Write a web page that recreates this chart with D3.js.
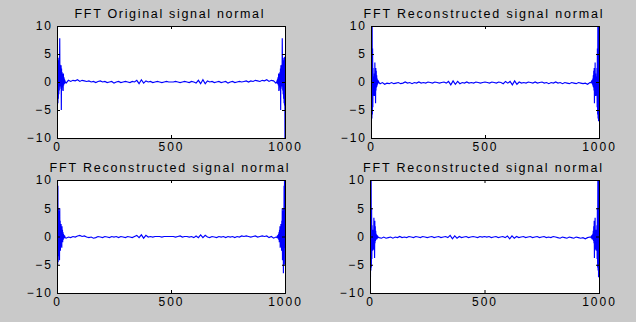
<!DOCTYPE html>
<html>
<head>
<meta charset="utf-8">
<script src="https://cdn.jsdelivr.net/npm/d3@7"></script>
<style>
  html, body { margin: 0; padding: 0; background: #c9c9c9; }
  svg { display: block; }
</style>
</head>
<body>
<svg id="chart" width="636" height="322"></svg>
<script>
// ---------------- DATA ----------------
const titles = [
  "FFT Original signal normal",
  "FFT Reconstructed signal normal",
  "FFT Reconstructed signal normal",
  "FFT Reconstructed signal normal"
];
const xTickValues = [0, 500, 1000];
const yTickValues = [-10, -5, 0, 5, 10];

// sample index (x positions of the plotted points)
const sampleIndex = [
  0,1,2,3,4,5,6,7,8,9,10,11,12,13,14,15,16,17,18,19,20,21,22,23,24,25,26,27,28,29,30,31,32,33,34,35,
  40,50,60,70,80,90,100,110,120,130,
  140,150,160,170,180,190,200,210,220,230,
  240,250,260,270,280,290,300,310,320,330,
  340,350,360,370,380,390,400,410,420,430,
  440,450,460,470,480,490,500,510,520,530,
  540,550,560,570,580,590,600,610,620,630,
  640,650,660,670,680,690,700,710,720,730,
  740,750,760,770,780,790,800,810,820,830,
  840,850,860,870,880,890,900,910,920,930,
  940,950,960,
  965,966,967,968,969,970,971,972,973,974,975,976,977,978,979,980,981,982,983,984,985,986,987,988,989,990,991,992,993,994,995,996,997,998,999,1000
];

const fftOriginal = [
  -14,4.5,-4.2,4.4,-3.8,4.3,-3,3.9,-2.2,3.4,-1.5,3.2,7.8,-0.8,3.1,-0.5,2.8,-1.2,3.0,-5.0,2.4,-1.5,1.8,-0.8,1.5,-1.0,1.2,-1.6,1.5,-0.6,0.9,-0.4,0.6,-0.3,0.4,0.1,
  -0.2,0.3,0.1,0.3,0.2,0.4,0.1,0.3,0.2,0.1,
  0.2,0.0,0.1,-0.1,0.1,0.2,0.0,0.1,-0.1,0.0,
  0.1,-0.2,0.0,0.1,-0.1,0.0,0.1,0.0,-0.1,0.1,
  0.0,0.3,-0.3,0.4,-0.2,0.2,0.0,0.1,-0.1,0.0,
  0.1,0.0,-0.1,0.0,0.1,0.0,0.0,0.0,0.1,0.0,
  -0.1,0.0,0.1,0.0,-0.1,0.1,0.0,-0.2,0.3,-0.3,
  0.4,-0.3,0.2,0.0,0.1,-0.1,0.0,0.1,-0.1,0.0,
  0.1,-0.2,0.0,0.1,-0.1,0.0,0.1,0.0,0.1,0.2,
  0.0,0.2,0.1,0.3,0.2,0.1,0.3,0.2,0.4,0.1,
  0.3,0.2,-0.2,
  0.1,0.4,-0.3,0.6,-0.4,0.9,-0.6,1.5,-1.6,1.2,-1.0,1.5,-0.8,1.8,-1.5,2.4,-5.0,3.0,-1.2,2.8,-0.5,3.1,-0.8,7.8,3.2,-1.5,3.4,-2.2,3.9,-3,4.3,-3.8,4.4,-4.2,4.5,-14
];

const fftReconTopRight = [
  1,14,-7,13,-6.5,11,-5.8,6,-4.5,2.5,-2.4,1,-2.2,0.5,-2.5,1.5,-1,3.5,-2.5,1,-3.8,2.5,-1.5,2,-1,1.2,-0.8,0.6,-0.5,0.4,-0.3,0.3,-0.2,0.2,-0.2,-0.1,
  -0.3,-0.1,-0.4,-0.2,-0.3,-0.1,-0.3,-0.2,-0.1,-0.3,
  -0.2,0.0,-0.2,-0.1,-0.3,-0.1,-0.2,0.0,-0.2,-0.1,
  -0.2,0.0,-0.1,-0.2,0.0,-0.1,-0.2,-0.1,0.0,-0.2,
  0.1,-0.5,0.2,-0.4,0.1,-0.3,-0.1,-0.2,0.0,-0.2,
  -0.1,-0.2,0.0,-0.1,-0.2,-0.1,0.0,-0.1,-0.2,0.0,
  -0.1,-0.2,0.0,-0.1,-0.3,0.1,-0.2,0.1,-0.5,0.2,
  -0.4,0.0,-0.2,-0.1,-0.2,0.0,-0.1,-0.2,0.0,-0.2,
  -0.1,0.0,-0.2,-0.1,-0.3,-0.1,-0.2,0.0,-0.2,-0.1,
  -0.3,-0.1,-0.2,-0.3,-0.1,-0.2,-0.3,-0.1,-0.2,-0.3,
  -0.2,-0.4,-0.1,
  -0.1,-0.2,0.2,-0.2,0.3,-0.3,0.4,-0.5,0.6,-0.8,1.2,-1,2,-1.5,2.5,-3.8,1,-2.5,3.5,-1,1.5,-2.5,0.5,-2.2,1,-2.4,2.5,-4.5,6,-5.8,11,-6.5,13,-7,14,1
];

const fftReconBottomLeft = [
  14,-6.5,13,-5,9,-4.5,5,-3.5,4.5,-2,3,-4.2,5,-1.5,2.8,-2.5,1.5,-1.8,2.2,-1.2,1.6,-2,1.8,-0.8,1.2,-1,0.8,-0.6,0.5,-0.4,0.3,-0.3,0.2,-0.2,0.1,-0.2,
  -0.3,-0.1,-0.2,0.0,-0.1,0.1,0.2,0.0,0.1,-0.1,
  -0.2,-0.1,-0.3,-0.2,0.0,-0.1,-0.2,0.0,-0.1,-0.2,
  0.0,-0.1,0.0,-0.2,0.0,-0.1,-0.2,0.0,-0.1,-0.2,
  0.0,0.2,-0.2,0.3,-0.3,0.2,-0.1,0.0,-0.1,0.0,
  0.0,0.0,-0.1,0.0,0.0,0.0,0.0,0.0,-0.1,0.0,
  0.1,-0.1,0.0,0.0,-0.1,0.0,-0.2,0.1,-0.2,0.3,
  -0.2,0.2,-0.1,-0.2,0.0,-0.1,-0.2,0.0,-0.1,0.0,
  -0.2,0.0,-0.1,0.0,-0.2,0.0,-0.1,0.1,0.0,0.1,
  0.0,-0.1,0.0,0.1,-0.1,0.0,0.1,0.0,0.1,-0.2,
  0.0,-0.3,-0.1,
  -0.2,0.1,-0.2,0.2,-0.3,0.3,-0.4,0.5,-0.6,0.8,-1,1.2,-0.8,1.8,-2,1.6,-1.2,2.2,-1.8,1.5,-2.5,2.8,-1.5,5,-4.2,3,-2,4.5,-6.5,5,-4.5,9,-5,13,-2,6.5
];

const fftReconBottomRight = [
  1,14,-7.2,12,-6,10,-5.5,5,-4,2,-2.4,1.2,-2.5,0.6,-2.2,1.2,-1,3.3,-2.4,1.2,-3.8,2.8,-1.2,1.8,-0.8,1,-0.6,0.5,-0.5,0.3,-0.3,0.2,-0.3,0.1,-0.2,-0.1,
  -0.2,-0.3,-0.1,-0.3,-0.2,-0.1,-0.3,-0.1,-0.2,0.0,
  -0.2,-0.1,-0.2,0.0,-0.1,-0.2,0.0,-0.1,-0.2,0.0,
  -0.1,-0.2,-0.1,0.0,-0.2,-0.1,0.0,-0.2,-0.1,0.0,
  -0.2,0.2,-0.4,0.1,-0.3,0.0,-0.2,-0.1,0.0,-0.2,
  -0.1,0.0,-0.1,-0.2,0.0,-0.1,0.0,-0.1,0.0,-0.2,
  -0.1,0.0,-0.2,-0.1,0.0,-0.2,0.1,-0.4,0.1,-0.3,
  0.0,-0.2,-0.1,0.0,-0.2,-0.1,0.0,-0.2,-0.1,0.0,
  -0.2,-0.1,0.0,-0.2,-0.1,-0.2,0.0,-0.1,-0.2,-0.3,
  -0.1,-0.2,-0.3,-0.1,-0.2,-0.3,-0.1,-0.2,-0.3,-0.2,
  -0.4,-0.2,-0.1,
  -0.1,-0.2,0.1,-0.3,0.2,-0.3,0.3,-0.5,0.5,-0.6,1,-0.8,1.8,-1.2,2.8,-3.8,1.2,-2.4,3.3,-1,1.2,-2.2,0.6,-2.5,1.2,-2.4,2,-4,5,-5.5,10,-6,12,-7.2,14,1
];

// ---------------- LAYOUT ----------------
const svg = d3.select("#chart");
svg.append("rect").attr("x", 0).attr("y", 0).attr("width", 636).attr("height", 322).attr("fill", "#c9c9c9");

const panels = [
  { title: titles[0], values: fftOriginal,         left: 57,  top: 26,  width: 228, height: 112, titleLen: 189, titleY: 18 },
  { title: titles[1], values: fftReconTopRight,    left: 371, top: 26,  width: 228, height: 112, titleLen: 239, titleY: 18 },
  { title: titles[2], values: fftReconBottomLeft,  left: 57,  top: 180, width: 228, height: 113, titleLen: 239, titleY: 172 },
  { title: titles[3], values: fftReconBottomRight, left: 370, top: 180, width: 229, height: 113, titleLen: 239, titleY: 172 }
];

const fontFamily = "'Liberation Sans', Arial, sans-serif";

panels.forEach((p, i) => {
  const g = svg.append("g").attr("transform", `translate(${p.left},${p.top})`);
  const x = d3.scaleLinear().domain([0, 1000]).range([0, p.width]);
  const y = d3.scaleLinear().domain([-10, 10]).range([p.height, 0]);

  g.append("rect").attr("x", 0).attr("y", 0).attr("width", p.width).attr("height", p.height)
    .attr("fill", "#ffffff");

  const clipId = "clip" + i;
  g.append("clipPath").attr("id", clipId)
    .append("rect").attr("x", 0).attr("y", 0).attr("width", p.width).attr("height", p.height);

  const pts = sampleIndex.map((s, k) => [s, p.values[k]]);
  const line = d3.line().x(d => x(d[0])).y(d => y(d[1]));
  g.append("path")
    .attr("clip-path", `url(#${clipId})`)
    .attr("d", line(pts))
    .attr("fill", "none")
    .attr("stroke", "#0000ff")
    .attr("stroke-width", 1.15);

  const styleAxis = sel => {
    sel.select(".domain").remove();
    sel.selectAll(".tick line").attr("stroke", "#000");
    sel.selectAll("text").attr("font-family", fontFamily).attr("font-size", 12)
      .attr("fill", "#000").attr("letter-spacing", "2px");
  };
  g.append("g").attr("transform", `translate(0,${p.height})`)
    .call(d3.axisBottom(x).tickValues(xTickValues).tickFormat(d3.format("d")).tickSize(-3).tickPadding(4))
    .call(styleAxis);
  g.append("g")
    .call(d3.axisLeft(y).tickValues(yTickValues).tickFormat(d3.format("d")).tickSize(-3).tickPadding(4))
    .call(styleAxis);
  g.append("g")
    .call(d3.axisTop(x).tickValues(xTickValues).tickFormat("").tickSize(-3))
    .call(styleAxis);
  g.append("g").attr("transform", `translate(${p.width},0)`)
    .call(d3.axisRight(y).tickValues(yTickValues).tickFormat("").tickSize(-3))
    .call(styleAxis);

  g.append("rect").attr("x", 0).attr("y", 0).attr("width", p.width).attr("height", p.height)
    .attr("fill", "none").attr("stroke", "#000").attr("stroke-width", 1)
    .attr("shape-rendering", "crispEdges");

  svg.append("text")
    .attr("x", p.left + p.width / 2 - 2)
    .attr("y", p.titleY)
    .attr("text-anchor", "middle")
    .attr("font-family", fontFamily)
    .attr("font-size", 12.5)
    .attr("fill", "#000")
    .attr("textLength", p.titleLen)
    .attr("lengthAdjust", "spacing")
    .text(p.title);
});
</script>
</body>
</html>
